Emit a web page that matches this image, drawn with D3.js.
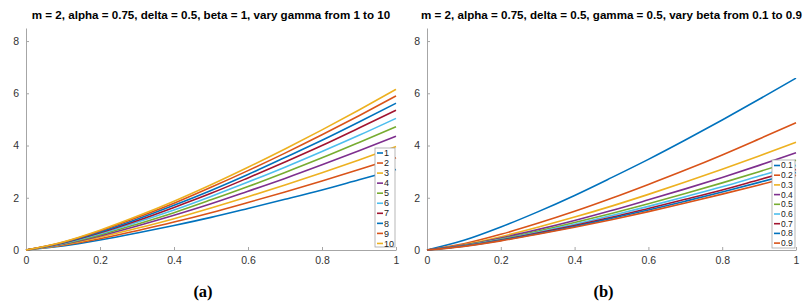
<!DOCTYPE html>
<html>
<head>
<meta charset="utf-8">
<script src="https://cdn.jsdelivr.net/npm/d3@7"></script>
<style>
  body { margin: 0; background: #fff; }
  text { font-family: 'Liberation Sans', Arial, sans-serif; }
</style>
</head>
<body>
<svg width="805" height="307"></svg>
<script>
// x positions where values were read
const xs = [0, 0.1, 0.2, 0.3, 0.4, 0.5, 0.6, 0.7, 0.8, 0.9, 1];

// panel (a): vary gamma 1..10
const gammaLabels = ['1', '2', '3', '4', '5', '6', '7', '8', '9', '10'];
const gammaValues = [
  [0, 0.15, 0.38, 0.65, 0.94, 1.25, 1.59, 1.94, 2.30, 2.69, 3.08],
  [0, 0.18, 0.43, 0.74, 1.07, 1.43, 1.82, 2.22, 2.64, 3.08, 3.53],
  [0, 0.20, 0.49, 0.83, 1.20, 1.61, 2.04, 2.49, 2.96, 3.45, 3.96],
  [0, 0.22, 0.54, 0.92, 1.33, 1.77, 2.25, 2.74, 3.26, 3.80, 4.36],
  [0, 0.24, 0.58, 0.99, 1.43, 1.92, 2.43, 2.97, 3.53, 4.12, 4.72],
  [0, 0.25, 0.62, 1.06, 1.53, 2.05, 2.60, 3.17, 3.77, 4.39, 5.04],
  [0, 0.27, 0.66, 1.12, 1.63, 2.17, 2.76, 3.37, 4.00, 4.67, 5.35],
  [0, 0.28, 0.69, 1.18, 1.71, 2.28, 2.89, 3.54, 4.20, 4.90, 5.62],
  [0, 0.30, 0.73, 1.24, 1.79, 2.40, 3.04, 3.71, 4.41, 5.14, 5.90],
  [0, 0.31, 0.76, 1.29, 1.87, 2.50, 3.17, 3.87, 4.60, 5.36, 6.15]
];

// panel (b): vary beta 0.1..0.9
const betaLabels = ['0.1', '0.2', '0.3', '0.4', '0.5', '0.6', '0.7', '0.8', '0.9'];
const betaValues = [
  [0, 0.37, 0.88, 1.46, 2.09, 2.77, 3.47, 4.21, 4.98, 5.77, 6.58],
  [0, 0.24, 0.60, 1.02, 1.48, 1.98, 2.51, 3.06, 3.64, 4.25, 4.87],
  [0, 0.21, 0.51, 0.87, 1.26, 1.68, 2.13, 2.60, 3.09, 3.60, 4.13],
  [0, 0.19, 0.46, 0.78, 1.13, 1.51, 1.92, 2.34, 2.78, 3.24, 3.72],
  [0, 0.17, 0.42, 0.72, 1.05, 1.40, 1.77, 2.16, 2.57, 3.00, 3.44],
  [0, 0.16, 0.40, 0.68, 0.98, 1.32, 1.67, 2.04, 2.42, 2.83, 3.24],
  [0, 0.15, 0.38, 0.65, 0.94, 1.25, 1.59, 1.94, 2.30, 2.69, 3.08],
  [0, 0.15, 0.37, 0.62, 0.90, 1.21, 1.53, 1.87, 2.22, 2.59, 2.97],
  [0, 0.14, 0.35, 0.60, 0.87, 1.16, 1.47, 1.80, 2.14, 2.49, 2.86]
];

const xTicks = [0, 0.2, 0.4, 0.6, 0.8, 1];
const yTicks = [0, 2, 4, 6, 8];

// matlab default colour order
const colors = ['#0072BD', '#D95319', '#EDB120', '#7E2F8E', '#77AC30', '#4DBEEE', '#A2142F'];

const svg = d3.select('svg');

const drawPanel = (opts) => {
  const { left, right, title, caption, labels, values, legend } = opts;
  const top = 28, bottom = 250;

  const xScale = d3.scaleLinear().domain([0, 1]).range([left, right]);
  const yScale = d3.scaleLinear().domain([0, 8.5]).range([bottom, top]);

  const g = svg.append('g');

  // axes, ticks pointing inward
  const xAxis = d3.axisBottom(xScale).tickValues(xTicks)
    .tickFormat(d3.format('~g')).tickSizeInner(-3).tickSizeOuter(0).tickPadding(7);
  const yAxis = d3.axisLeft(yScale).tickValues(yTicks)
    .tickSizeInner(-3).tickSizeOuter(0).tickPadding(7);

  const xAxisG = g.append('g').attr('transform', `translate(0,${bottom})`).call(xAxis);
  const yAxisG = g.append('g').attr('transform', `translate(${left},0)`).call(yAxis);
  [xAxisG, yAxisG].forEach(a => {
    a.select('.domain').attr('stroke', '#a6a6a6');
    a.selectAll('.tick line').attr('stroke', '#a6a6a6');
    a.selectAll('.tick text').attr('fill', '#333').style('font-size', '10.5px')
      .style('font-family', "'Liberation Sans', Arial, sans-serif");
  });

  const line = d3.line()
    .x((d, i) => xScale(xs[i]))
    .y(d => yScale(d))
    .curve(d3.curveMonotoneX);

  g.selectAll('path.series').data(values).enter().append('path')
    .attr('class', 'series')
    .attr('d', line)
    .attr('fill', 'none')
    .attr('stroke', (d, i) => colors[i % colors.length])
    .attr('stroke-width', 1.6);

  // title
  g.append('text')
    .attr('x', (left + right) / 2)
    .attr('y', 19)
    .attr('text-anchor', 'middle')
    .style('font-size', '11.6px')
    .style('font-weight', 'bold')
    .attr('fill', '#000')
    .text(title);

  // legend
  const lg = g.append('g');
  lg.append('rect')
    .attr('x', legend.x).attr('y', legend.y)
    .attr('width', legend.w).attr('height', legend.h)
    .attr('fill', '#fff').attr('stroke', '#a6a6a6').attr('stroke-width', 0.8);
  labels.forEach((lab, i) => {
    const cy = legend.y + legend.first + i * legend.step;
    lg.append('line')
      .attr('x1', legend.x + 2).attr('x2', legend.x + 8)
      .attr('y1', cy).attr('y2', cy)
      .attr('stroke', colors[i % colors.length]).attr('stroke-width', 1.6);
    lg.append('text')
      .attr('x', legend.x + 9).attr('y', cy)
      .attr('dy', '0.35em')
      .style('font-size', legend.font + 'px')
      .attr('fill', '#222')
      .text(lab);
  });

  // caption
  g.append('text')
    .attr('x', (left + right) / 2 - 8)
    .attr('y', 297)
    .attr('text-anchor', 'middle')
    .style('font-family', "'Liberation Serif', 'Times New Roman', serif")
    .style('font-size', '16.5px')
    .style('font-weight', 'bold')
    .text(caption);
};

drawPanel({
  left: 26, right: 396,
  title: 'm = 2, alpha = 0.75, delta = 0.5, beta = 1, vary gamma from 1 to 10',
  caption: '(a)',
  labels: gammaLabels, values: gammaValues,
  legend: { x: 375, y: 148, w: 20, h: 99, first: 5, step: 10.05, font: 9 }
});

drawPanel({
  left: 427, right: 796,
  title: 'm = 2, alpha = 0.75, delta = 0.5, gamma = 0.5, vary beta from 0.1 to 0.9',
  caption: '(b)',
  labels: betaLabels, values: betaValues,
  legend: { x: 772, y: 160, w: 23, h: 88, first: 5.5, step: 9.7, font: 8.5 }
});
</script>
</body>
</html>
